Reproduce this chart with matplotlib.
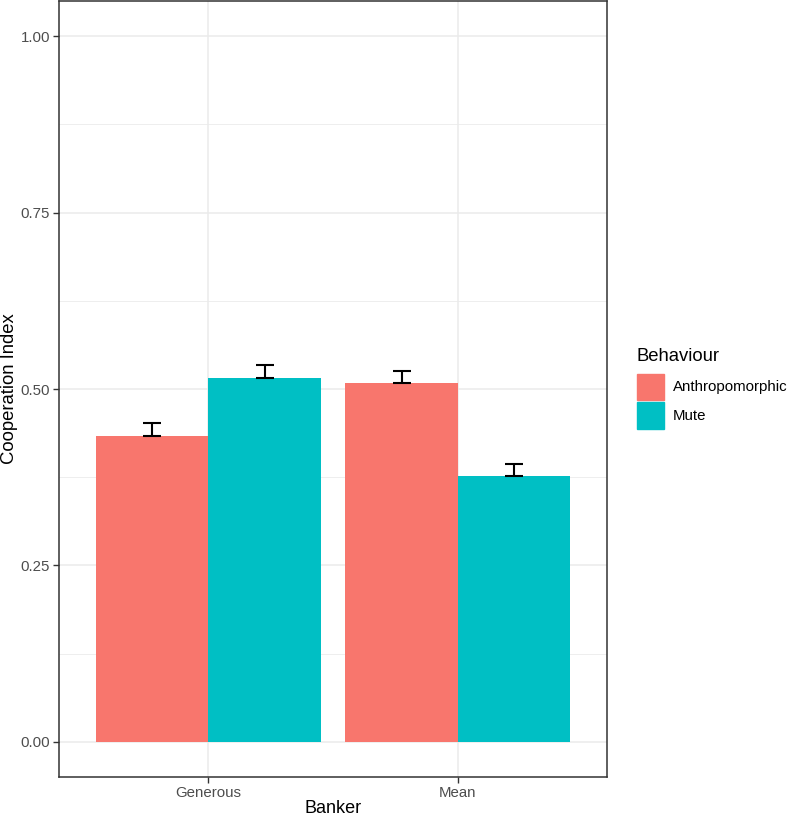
import numpy as np
import matplotlib.pyplot as plt
from matplotlib.patches import Rectangle

plt.rcParams['font.family'] = ['Liberation Sans', 'DejaVu Sans']

bankers = ['Generous', 'Mean']
behaviours = ['Anthropomorphic', 'Mute']
colors = ['#F8766D', '#00BFC4']

means = {'Anthropomorphic': [0.434, 0.508],
         'Mute': [0.516, 0.376]}
se = {'Anthropomorphic': [0.018, 0.018],
      'Mute': [0.018, 0.018]}

W, H = 788, 817
fig = plt.figure(figsize=(W / 100, H / 100), dpi=100)
ax = fig.add_axes([59 / W, 1 - 777 / H, (607 - 59) / W, 776 / H])

x = np.arange(len(bankers)) + 1
width = 0.45
for i, b in enumerate(behaviours):
    pos = x + (i - 0.5) * width
    ax.bar(pos, means[b], width=width, color=colors[i], zorder=2)
    # error bars only go up from the mean
    ax.errorbar(pos, means[b], yerr=[np.zeros(len(se[b])), se[b]], fmt='none',
                ecolor='black', elinewidth=1.5, capsize=6.2, capthick=1.5, zorder=3)

ax.set_xlim(0.4, 2.6)
ax.set_ylim(-0.05, 1.05)
ax.set_xticks(x)
ax.set_xticklabels(bankers)
ax.set_yticks([0, 0.25, 0.5, 0.75, 1.0])
ax.set_yticklabels(['0.00', '0.25', '0.50', '0.75', '1.00'])
ax.set_yticks([0.125, 0.375, 0.625, 0.875], minor=True)
ax.grid(True, which='major', color='#EBEBEB', linewidth=1.1, zorder=0)
ax.grid(True, which='minor', axis='y', color='#EBEBEB', linewidth=0.6, zorder=0)
ax.set_axisbelow(True)
for s in ax.spines.values():
    s.set_color('#333333')
    s.set_linewidth(1.1)
ax.tick_params(which='major', length=4, width=1, color='#333333',
               labelcolor='#4D4D4D', labelsize=10.8, pad=2.5)
ax.tick_params(which='minor', length=0)
ax.set_xlabel('Banker', fontsize=13, labelpad=0)
ax.set_ylabel('Cooperation Index', fontsize=13.3, labelpad=2)

# legend
fig.text(637 / W, 1 - 356 / H, 'Behaviour', fontsize=13.3, va='center', ha='left')
for i, b in enumerate(behaviours):
    top = 373.5 + i * 29
    fig.patches.append(Rectangle((637 / W, 1 - (top + 26.5) / H), 26.5 / W, 26.5 / H,
                                 transform=fig.transFigure, color=colors[i]))
    fig.text(673 / W, 1 - (top + 13.5) / H, b, fontsize=10.8, va='center', ha='left')

fig.savefig('out.png', dpi=100)
